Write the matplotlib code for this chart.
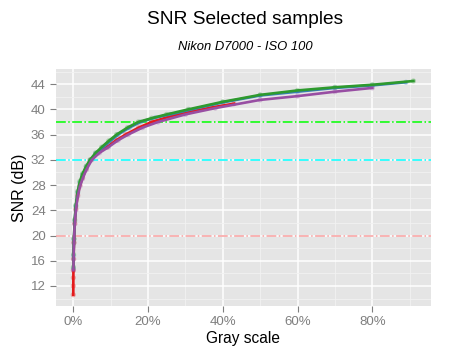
import matplotlib
matplotlib.use("Agg")
import matplotlib.pyplot as plt
from matplotlib.ticker import MultipleLocator, FuncFormatter

plt.rcParams['font.family'] = ['Liberation Sans', 'DejaVu Sans']

# ---- data (gray scale as fraction, SNR in dB) ----
red_x = [0.0002, 0.0003, 0.0004, 0.0006, 0.001, 0.002, 0.004, 0.007, 0.012, 0.018, 0.025,
         0.035, 0.047, 0.065, 0.09, 0.115, 0.14, 0.175, 0.21, 0.26, 0.31, 0.37, 0.43]
red_y = [10.6, 12.0, 13.3, 14.5, 16.3, 18.9, 21.9, 24.2, 26.4, 28.0, 29.2,
         30.6, 32.0, 33.1, 34.0, 35.1, 36.0, 37.1, 38.0, 38.9, 39.6, 40.3, 40.9]

blue_x = [0.0006, 0.001, 0.002, 0.004, 0.007, 0.012, 0.018, 0.025, 0.035, 0.045, 0.06, 0.08,
          0.10, 0.12, 0.15, 0.18, 0.22, 0.26, 0.31, 0.40, 0.50, 0.60, 0.70, 0.80, 0.89]
blue_y = [14.8, 16.8, 19.4, 22.3, 24.6, 26.8, 28.4, 29.6, 30.9, 31.9, 33.0, 34.0,
          35.0, 36.0, 37.1, 38.0, 38.7, 39.2, 39.9, 41.1, 42.2, 42.8, 43.4, 43.8, 44.3]

green_x = [0.0006, 0.001, 0.002, 0.004, 0.007, 0.012, 0.018, 0.025, 0.035, 0.045, 0.06, 0.076,
           0.095, 0.116, 0.145, 0.174, 0.21, 0.25, 0.308, 0.40, 0.50, 0.60, 0.70, 0.80, 0.91]
green_y = [15.0, 17.0, 19.5, 22.5, 24.8, 27.0, 28.6, 29.8, 31.0, 32.0, 33.1, 34.0,
           35.0, 36.0, 37.1, 38.0, 38.6, 39.2, 40.0, 41.2, 42.3, 43.0, 43.5, 43.9, 44.5]

purple_x = [0.0006, 0.001, 0.002, 0.004, 0.007, 0.012, 0.018, 0.025, 0.035, 0.05, 0.07,
            0.094, 0.12, 0.147, 0.185, 0.227, 0.30, 0.38, 0.50, 0.60, 0.70, 0.80]
purple_y = [14.5, 16.2, 18.8, 21.8, 24.0, 26.2, 27.8, 29.0, 30.4, 32.0, 33.1,
            34.0, 35.1, 36.0, 37.1, 38.0, 39.2, 40.2, 41.5, 42.1, 42.8, 43.4]

hlines = [38, 32, 20]
hline_colors = ['#00FF00', '#00FFFF', '#F8A0A0']

series = [
    (red_x, red_y, '#E41A1C'),
    (blue_x, blue_y, '#377EB8'),
    (green_x, green_y, '#2E9A2E'),
    (purple_x, purple_y, '#984EA3'),
]

fig = plt.figure(figsize=(4.72, 3.64), dpi=100)
ax = fig.add_axes([56/472, 1 - 305.7/364, (431-56)/472, (305.7-69)/364])
ax.set_facecolor('#E5E5E5')
for s in ax.spines.values():
    s.set_visible(False)

ax.set_xlim(-0.046, 0.957)
ax.set_ylim(8.87, 46.4)
ax.xaxis.set_major_locator(MultipleLocator(0.2))
ax.xaxis.set_minor_locator(MultipleLocator(0.1))
ax.yaxis.set_major_locator(MultipleLocator(4))
ax.yaxis.set_minor_locator(MultipleLocator(2))
ax.set_yticks(range(12, 45, 4))
ax.xaxis.set_major_formatter(FuncFormatter(lambda v, p: f"{v*100:.0f}%"))
ax.grid(which='major', color='white', linewidth=1.1)
ax.grid(which='minor', color='#F2F2F2', linewidth=0.6)
ax.set_axisbelow(True)
ax.tick_params(which='major', length=4, color='#7F7F7F', labelcolor='#7F7F7F', labelsize=9.5, width=0.8)
ax.tick_params(which='minor', length=0)

for y, c in zip(hlines, hline_colors):
    ax.axhline(y, color=c, linestyle='-.', linewidth=1.1, zorder=2)

for xs, ys, c in series:
    ax.scatter(xs, ys, s=14, color=c, alpha=0.3, edgecolors='none', zorder=3)
for xs, ys, c in series:
    ax.plot(xs, ys, color=c, linewidth=1.9, zorder=4)

ax.set_xlabel('Gray scale', fontsize=11.2, labelpad=2)
ax.set_ylabel('SNR (dB)', fontsize=11.5, labelpad=3)

fig.text(245/472, 1 - 20/364, 'SNR Selected samples', ha='center', va='center', fontsize=13.8)
fig.text(245/472, 1 - 47/364, 'Nikon D7000 - ISO 100', ha='center', va='center', fontsize=9.4, style='italic')

fig.savefig('out.png', dpi=100)
